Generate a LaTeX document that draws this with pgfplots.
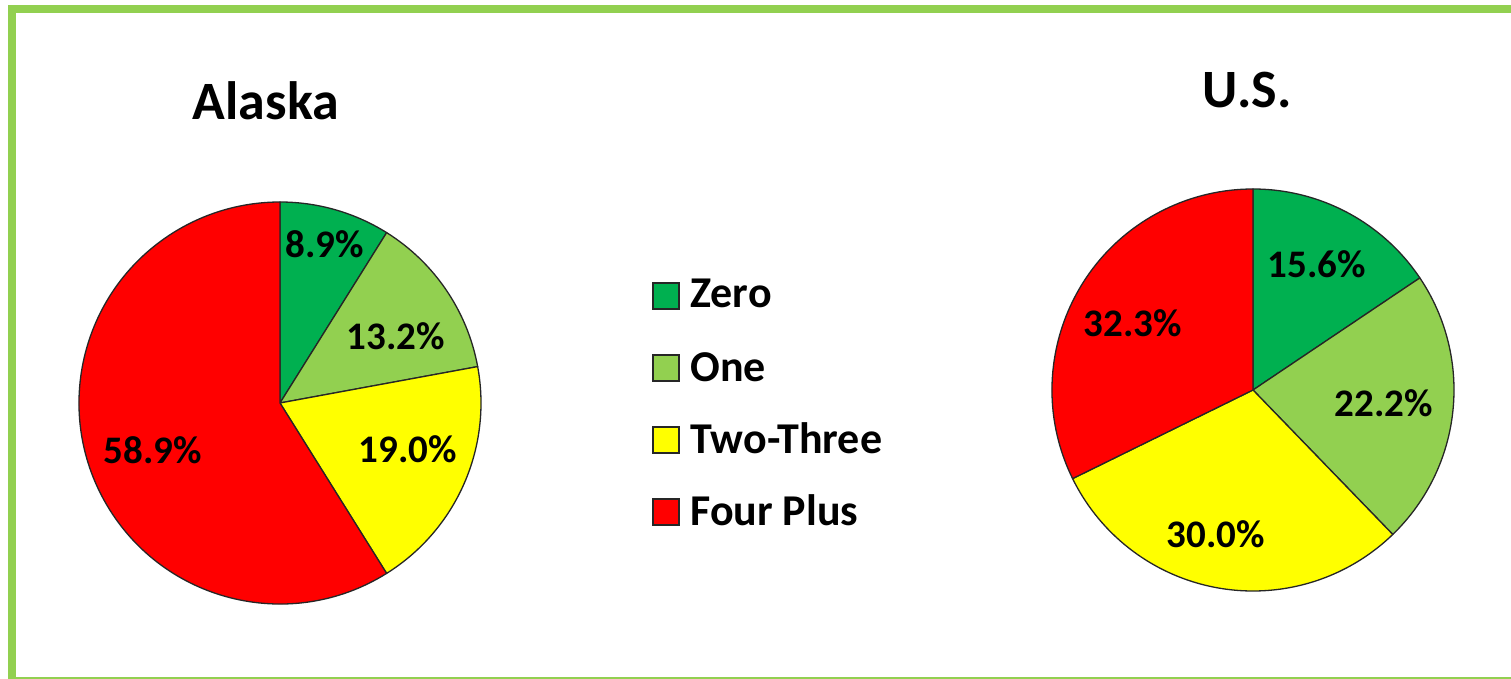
\documentclass[border=0pt]{standalone}
\usepackage{pgfplots}
\usepackage{pgfplotstable}
\pgfplotsset{compat=1.18}
\usepackage{fontspec}
\setmainfont{Carlito}
\definecolor{slice0}{HTML}{00B050}
\definecolor{slice1}{HTML}{92D050}
\definecolor{slice2}{HTML}{FFFF00}
\definecolor{slice3}{HTML}{FF0000}
\definecolor{frame}{HTML}{92D050}

\pgfplotstableread{
cat alaska us
Zero 8.9 15.6
One 13.2 22.2
TwoThree 19.0 30.0
FourPlus 58.9 32.3
}\piedata

% #1 column, #2 cx, #3 cy (pixels), #4 radius (pt)
\newcommand{\drawpie}[4]{%
  \gdef\pietotal{0}%
  \pgfplotstableforeachcolumnelement{#1}\of\piedata\as\val{%
    \pgfmathsetmacro\newtot{\pietotal+\val}%
    \xdef\pietotal{\newtot}%
  }%
  \gdef\cum{0}%
  \pgfplotstableforeachcolumnelement{#1}\of\piedata\as\val{%
    \pgfmathsetmacro\sa{90-(\cum/\pietotal)*360}%
    \pgfmathsetmacro\ea{90-((\cum+\val)/\pietotal)*360}%
    \pgfmathsetmacro\newcum{\cum+\val}%
    \xdef\cum{\newcum}%
    \edef\temp{\noexpand\filldraw[fill=slice\pgfplotstablerow, draw=black!85, line width=0.65pt, line join=round] (axis cs:#2,#3) -- ++(\sa:#4) arc[start angle=\sa, end angle=\ea, radius=#4] -- cycle;}%
    \temp
  }%
}

\begin{document}
\begin{tikzpicture}
\useasboundingbox (0,0) rectangle (755.5pt,339.5pt);
\clip (0,0) rectangle (755.5pt,339.5pt);
\fill[white] (0,0) rectangle (755.5pt,339.5pt);
\begin{axis}[
  at={(0,0)}, anchor=south west,
  x=0.5pt, y=0.5pt,
  xmin=0, xmax=1511, ymin=0, ymax=679,
  y dir=reverse,
  hide axis, clip=false,
]
\drawpie{alaska}{280}{403}{100.5pt}
\drawpie{us}{1253}{390}{100.5pt}

% titles
\node[anchor=base, font=\fontsize{27pt}{30pt}\selectfont\bfseries] at (axis cs:266,120) {Alaska};
\node[anchor=base, font=\fontsize{27pt}{30pt}\selectfont\bfseries] at (axis cs:1247,108) {U.S.};

% slice labels
\tikzset{lab/.style={anchor=base, inner sep=0pt, font=\fontsize{19.5pt}{22pt}\selectfont\bfseries}}
\node[lab] at (axis cs:325,258) {8.9\%};
\node[lab] at (axis cs:396,350) {13.2\%};
\node[lab] at (axis cs:408,462) {19.0\%};
\node[lab] at (axis cs:153,463) {58.9\%};
\node[lab] at (axis cs:1317,278) {15.6\%};
\node[lab] at (axis cs:1384,416) {22.2\%};
\node[lab] at (axis cs:1216,547) {30.0\%};
\node[lab] at (axis cs:1133,337) {32.3\%};

% legend
\tikzset{leg/.style={anchor=base west, inner sep=0pt, font=\fontsize{22pt}{24pt}\selectfont\bfseries}}
\filldraw[fill=slice0, draw=black!85, line width=0.7pt] (axis cs:653,283) rectangle (axis cs:679,309);
\filldraw[fill=slice1, draw=black!85, line width=0.7pt] (axis cs:653,355) rectangle (axis cs:679,381);
\filldraw[fill=slice2, draw=black!85, line width=0.7pt] (axis cs:653,427) rectangle (axis cs:679,453);
\filldraw[fill=slice3, draw=black!85, line width=0.7pt] (axis cs:653,499) rectangle (axis cs:679,525);
\node[leg] at (axis cs:690,308) {Zero};
\node[leg] at (axis cs:690,381) {One};
\node[leg] at (axis cs:690,453) {Two-Three};
\node[leg] at (axis cs:690,525) {Four Plus};
\end{axis}
\draw[frame, line width=4pt] (6pt,335pt) rectangle (758pt,-1pt);
\end{tikzpicture}
\end{document}
